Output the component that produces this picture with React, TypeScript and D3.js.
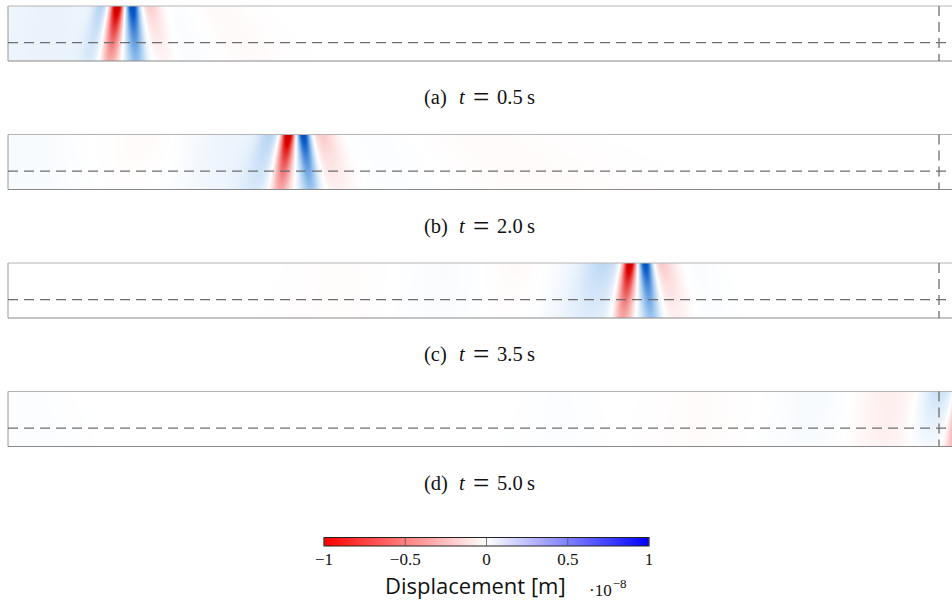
import React, { useMemo } from "react";
import * as d3 from "d3";

const W = 952;
const H = 610;

// Snapshot labels and times (s)
const snapshotLabels = ["a", "b", "c", "d"];
const snapshotTimes = ["0.5", "2.0", "3.5", "5.0"];

// Model extent
const trackExtent = [0, 100]; // horizontal coordinate (m)
const depthExtent = [0, 30]; // depth below surface (m)
const layerInterface = 20; // depth of the layer boundary (m)
const sectionMark = 98; // x of the observation section (m)

// Wave lobes of the displacement field at each instant:
// [x at surface (m), width (m), amplitude (1e-8 m), tilt (m per m depth), fade depth (m, 0 = none)]
type Lobe = [number, number, number, number, number];

const lobesA: Lobe[] = [
  [11.5, 0.52, -1.3, -0.026, 30],
  [13.1, 0.5, 1.2, 0.013, 30],
  [9.8, 0.6, 0.28, -0.035, 30],
  [14.95, 0.8, -0.25, 0.04, 30],
  [4.4, 5.5, 0.11, 0, 0],
  [21.8, 2.5, -0.03, 0.08, 0],
  [18.1, 1.5, 0.025, 0.06, 0],
];

const lobesB: Lobe[] = [
  [29.5, 0.52, -1.3, -0.028, 30],
  [31.1, 0.5, 1.2, 0.025, 30],
  [27.6, 0.9, 0.28, -0.05, 30],
  [23.9, 3.5, 0.1, 0, 0],
  [33.05, 1.0, -0.25, 0.05, 30],
  [14.9, 3.0, -0.025, 0, 0],
  [2.3, 3.0, 0.04, 0, 0],
  [49.7, 6.0, -0.02, 0.2, 0],
  [39.2, 3.0, 0.02, 0.1, 0],
];

const lobesC: Lobe[] = [
  [65.45, 0.52, -1.3, -0.025, 30],
  [67.1, 0.5, 1.2, 0.02, 30],
  [62.8, 1.5, 0.24, -0.05, 30],
  [60.7, 3.0, 0.09, 0, 0],
  [68.8, 1.0, -0.25, 0.05, 30],
  [54.9, 3.0, -0.035, 0, 0],
  [46.0, 2.5, 0.03, 0, 0],
  [35.0, 3.0, -0.015, 0, 0],
  [72.8, 1.5, 0.025, 0, 0],
];

const lobesD: Lobe[] = [
  [100.6, 0.52, -1.0, -0.03, 30],
  [97.9, 1.2, 0.26, -0.04, 30],
  [92.8, 2.2, -0.08, 0, 0],
  [84.6, 2.5, 0.04, 0, 0],
  [72.8, 3.0, -0.018, 0, 0],
  [58.1, 2.5, 0.015, 0, 0],
  [1.3, 3.0, 0.02, 0, 0],
];

const snapshotLobes = [lobesA, lobesB, lobesC, lobesD];

// Colour bar
const colorbarTicks = [-1, -0.5, 0, 0.5, 1];
const colorbarTickLabels = ["\u22121", "\u22120.5", "0", "0.5", "1"];

// Layout
const panelLeft = 8;
const panelTops = [6, 134.5, 263, 391.5];
const panelHeight = 55;
const captionX = 483;

const xScale = d3.scaleLinear().domain(trackExtent).range([panelLeft, panelLeft + 950]);

// Field colour map (diverging red-white-blue)
const fieldColor = d3
  .scaleLinear<string>()
  .domain([-1.4, -1, -0.45, -0.15, 0, 0.15, 0.45, 1, 1.4])
  .range(["#9e0000", "#e00000", "#f59a9a", "#fde0e0", "#ffffff", "#e2eefb", "#9cc6ef", "#0a5cc8", "#003a8f"])
  .interpolate(d3.interpolateRgb)
  .clamp(true);

function fieldValue(lobes: Lobe[], x: number, d: number) {
  let v = 0;
  for (const [x0, s, a, tilt, fade] of lobes) {
    const c = x0 + tilt * d;
    const w = s * (1 + d / 55);
    const u = (x - c) / w;
    v += a * Math.exp(-0.5 * u * u) * (fade > 0 ? Math.exp(-d / fade) : 1);
  }
  return v;
}

function renderField(lobes: Lobe[], depthScale: d3.ScaleLinear<number, number>, top: number) {
  const x0 = xScale(trackExtent[0]);
  const w = Math.round(xScale(trackExtent[1]) - x0);
  const h = panelHeight;
  const canvas = document.createElement("canvas");
  canvas.width = w;
  canvas.height = h;
  const ctx = canvas.getContext("2d")!;
  const img = ctx.createImageData(w, h);
  for (let j = 0; j < h; j++) {
    const d = depthScale.invert(top + j + 0.5);
    for (let i = 0; i < w; i++) {
      const x = xScale.invert(x0 + i + 0.5);
      const c = d3.rgb(fieldColor(fieldValue(lobes, x, d)));
      const k = (j * w + i) * 4;
      img.data[k] = c.r;
      img.data[k + 1] = c.g;
      img.data[k + 2] = c.b;
      img.data[k + 3] = 255;
    }
  }
  ctx.putImageData(img, 0, 0);
  return canvas.toDataURL();
}

function Snapshot({ index }: { index: number }) {
  const top = panelTops[index];
  const bottom = top + panelHeight;
  const depthScale = d3.scaleLinear().domain(depthExtent).range([top, bottom]);
  const href = useMemo(() => renderField(snapshotLobes[index], depthScale, top), [index]);
  const xl = xScale(trackExtent[0]);
  const xr = xScale(trackExtent[1]);
  const yi = depthScale(layerInterface);
  const xm = xScale(sectionMark);
  return (
    <g>
      <image href={href} x={xl} y={top} width={xr - xl} height={panelHeight} preserveAspectRatio="none" />
      <line x1={xl} x2={xr} y1={top} y2={top} stroke="#b4b4b4" strokeWidth={1} />
      <line x1={xl} x2={xr} y1={bottom} y2={bottom} stroke="#8a8a8a" strokeWidth={1.2} />
      <line x1={xl} x2={xl} y1={top} y2={bottom} stroke="#999" strokeWidth={1} />
      <line x1={xl} x2={xr} y1={yi} y2={yi} stroke="#6e6e6e" strokeWidth={1.3} strokeDasharray="10 6" />
      <line x1={xm} x2={xm} y1={top} y2={bottom} stroke="#6e6e6e" strokeWidth={1.3} strokeDasharray="10 6" />
      <text y={top + 98} fontFamily="'Liberation Serif', serif" fontSize={20.5} fill="#111">
        <tspan x={captionX - 59}>({snapshotLabels[index]})</tspan>
        <tspan x={captionX - 24} fontStyle="italic">t</tspan>
        <tspan x={captionX - 10} dy={3} fontSize={29}>=</tspan>
        <tspan x={captionX + 14} dy={-3}>{snapshotTimes[index]}</tspan>
        <tspan x={captionX + 44}>s</tspan>
      </text>
    </g>
  );
}

function Colorbar() {
  const cb = d3.scaleLinear().domain([-1, 1]).range([324, 649]);
  const y0 = 537.5;
  const h = 8.5;
  const stops = [
    { o: 0, c: "#ff0000" },
    { o: 0.5, c: "#ffffff" },
    { o: 1, c: "#0000ff" },
  ];
  return (
    <g>
      <defs>
        <linearGradient id="cbgrad" x1="0" x2="1" y1="0" y2="0">
          {stops.map((s) => (
            <stop key={s.o} offset={s.o} stopColor={s.c} />
          ))}
        </linearGradient>
      </defs>
      <rect x={cb(-1)} y={y0} width={cb(1) - cb(-1)} height={h} fill="url(#cbgrad)" stroke="#222" strokeWidth={1} />
      {colorbarTicks.map((t, i) => (
        <g key={t}>
          <line x1={cb(t)} x2={cb(t)} y1={y0} y2={y0 + h} stroke="#555" strokeWidth={0.8} />
          <text
            x={cb(t)}
            y={565}
            textAnchor="middle"
            fontFamily="'Liberation Serif', serif"
            fontSize={17}
            fill="#111"
          >
            {colorbarTickLabels[i]}
          </text>
        </g>
      ))}
      <text x={385} y={594} fontFamily="'Open Sans', sans-serif" fontSize={22} fill="#111">
        Displacement [m]
      </text>
      <text x={589} y={596} fontFamily="'Liberation Serif', serif" fontSize={17} fill="#111">
        {"\u00b710"}
        <tspan dy={-8} dx={1} fontSize={13}>
          {"\u22128"}
        </tspan>
      </text>
    </g>
  );
}

export default function App() {
  return (
    <div style={{ position: "absolute", left: 0, top: 0, width: W, height: H, background: "#fff" }}>
      <svg width={W} height={H} viewBox={`0 0 ${W} ${H}`} style={{ display: "block" }}>
        <rect width={W} height={H} fill="#fff" />
        {snapshotLabels.map((_, i) => (
          <Snapshot key={i} index={i} />
        ))}
        <Colorbar />
      </svg>
    </div>
  );
}
